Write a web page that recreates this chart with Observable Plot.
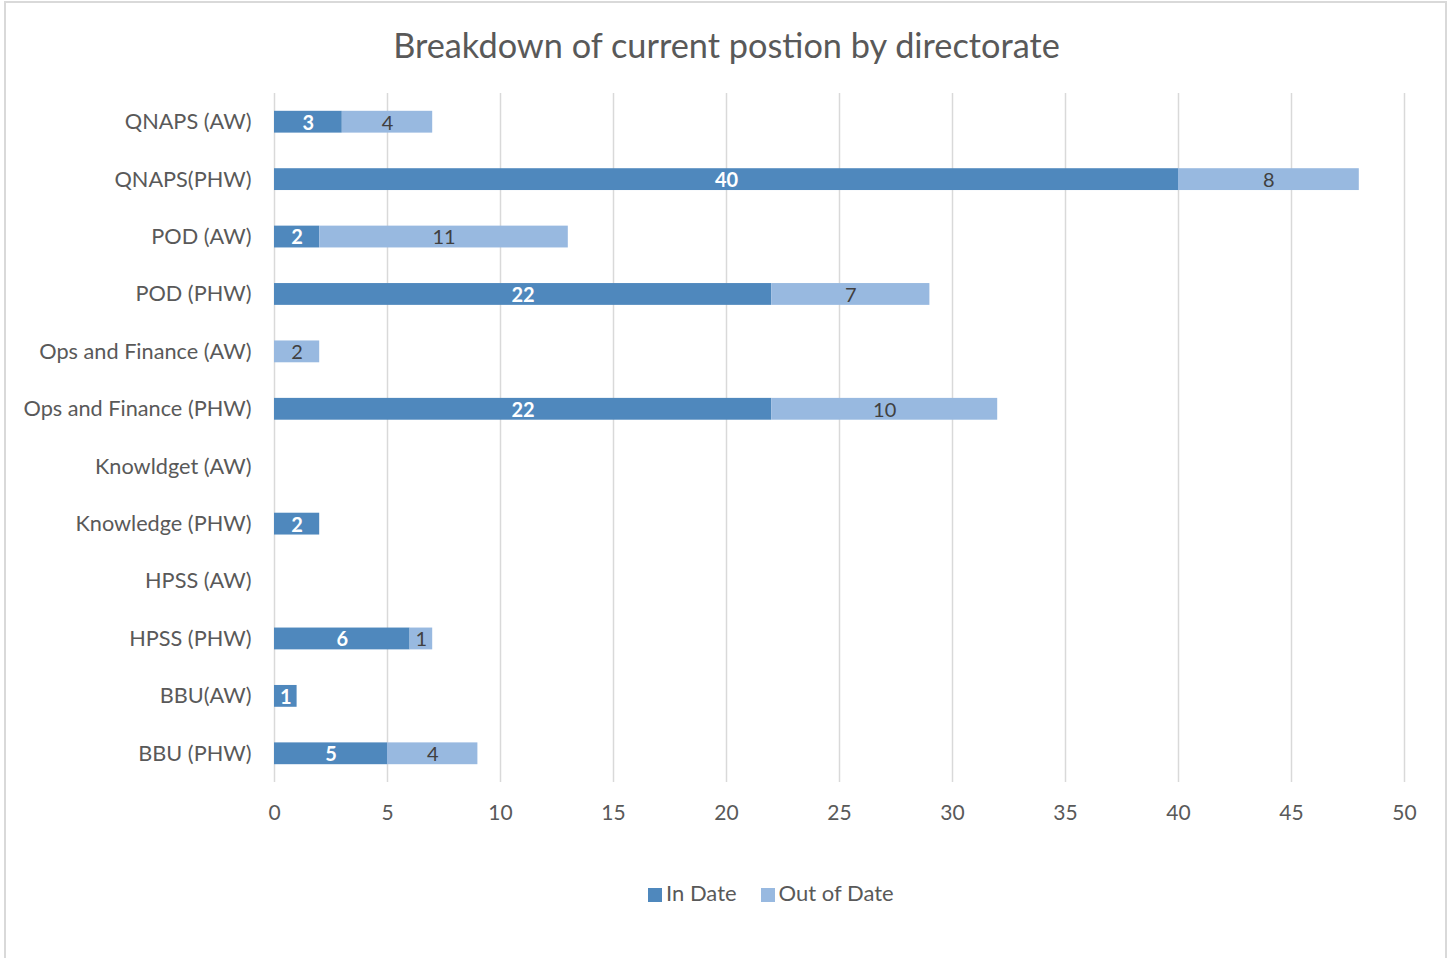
<!DOCTYPE html>
<html>
<head>
<meta charset="utf-8">
<script src="https://cdn.jsdelivr.net/npm/d3@7"></script>
<script src="https://cdn.jsdelivr.net/npm/@observablehq/plot@0.6"></script>
<style>
  body { margin: 0; background: #fff; font-family: Lato, "Open Sans", sans-serif; }
  #frame { position: absolute; left: 4px; top: 1px; width: 1443px; height: 970px; border: 2px solid #d9d9d9; box-sizing: border-box; }
  #title { position: absolute; left: 0; width: 1453px; top: 24px; text-align: center; font-size: 34.3px; color: #595959; }
  #chart { position: absolute; left: 0; top: 0; }
  #legend { position: absolute; top: 879px; left: 648px; white-space: nowrap; font-size: 22px; color: #595959; }
  #legend span.item { display: inline-block; margin-right: 24px; }
  #legend span.sw { display: inline-block; width: 14px; height: 14px; margin-right: 4px; vertical-align: -1px; }
</style>
</head>
<body>
<div id="frame"></div>
<div id="title">Breakdown of current postion by directorate</div>
<div id="chart"></div>
<div id="legend"></div>
<script>
const categories = ["QNAPS (AW)", "QNAPS(PHW)", "POD (AW)", "POD (PHW)", "Ops and Finance (AW)", "Ops and Finance (PHW)", "Knowldget (AW)", "Knowledge (PHW)", "HPSS (AW)", "HPSS (PHW)", "BBU(AW)", "BBU (PHW)"];
const inDate  = [3, 40, 2, 22, 0, 22, 0, 2, 0, 6, 1, 5];
const outDate = [4, 8, 11, 7, 2, 10, 0, 0, 0, 1, 0, 4];
const seriesNames = ["In Date", "Out of Date"];
const seriesColors = ["#4f88bd", "#98b9e0"];
const xTicks = [0, 5, 10, 15, 20, 25, 30, 35, 40, 45, 50];

const rows = [];
categories.forEach((c, i) => {
  rows.push({cat: c, series: seriesNames[0], value: inDate[i], idx: 0});
  rows.push({cat: c, series: seriesNames[1], value: outDate[i], idx: 1});
});

const labelOf = k => d => (d.idx === k && d.value > 0) ? String(d.value) : null;

const chart = Plot.plot({
  width: 1453,
  height: 850,
  marginTop: 93,
  marginBottom: 68,
  marginLeft: 274,
  marginRight: 49,
  style: {fontFamily: "Lato, 'Open Sans', sans-serif", fontSize: "21.5px", color: "#595959", background: "transparent"},
  x: {domain: [0, 50], ticks: xTicks, label: null, grid: false},
  y: {domain: categories, label: null, paddingInner: 0.62, paddingOuter: 0.31, round: false},
  color: {domain: seriesNames, range: seriesColors},
  marks: [
    Plot.ruleX(xTicks, {stroke: "#d9d9d9", strokeWidth: 1.5}),
    Plot.barX(rows, Plot.stackX({x: "value", y: "cat", fill: "series", order: "idx"})),
    Plot.text(rows, Plot.stackX({x: "value", y: "cat", z: "series", order: "idx",
      text: labelOf(0), fill: "#ffffff", fontWeight: "bold", fontSize: 20, dy: 1})),
    Plot.text(rows, Plot.stackX({x: "value", y: "cat", z: "series", order: "idx",
      text: labelOf(1), fill: "#404040", fontSize: 20, dy: 1})),
    Plot.axisX({ticks: xTicks, tickSize: 0, tickPadding: 23, label: null, fontSize: 21, fill: "#595959"}),
    Plot.axisY({tickSize: 0, tickPadding: 23, label: null, fontSize: 21.7, fill: "#595959"})
  ]
});
document.getElementById("chart").appendChild(chart);

const legend = document.getElementById("legend");
seriesNames.forEach((s, i) => {
  const item = document.createElement("span");
  item.className = "item";
  const sw = document.createElement("span");
  sw.className = "sw";
  sw.style.background = seriesColors[i];
  item.appendChild(sw);
  item.appendChild(document.createTextNode(s));
  legend.appendChild(item);
});
</script>
</body>
</html>
